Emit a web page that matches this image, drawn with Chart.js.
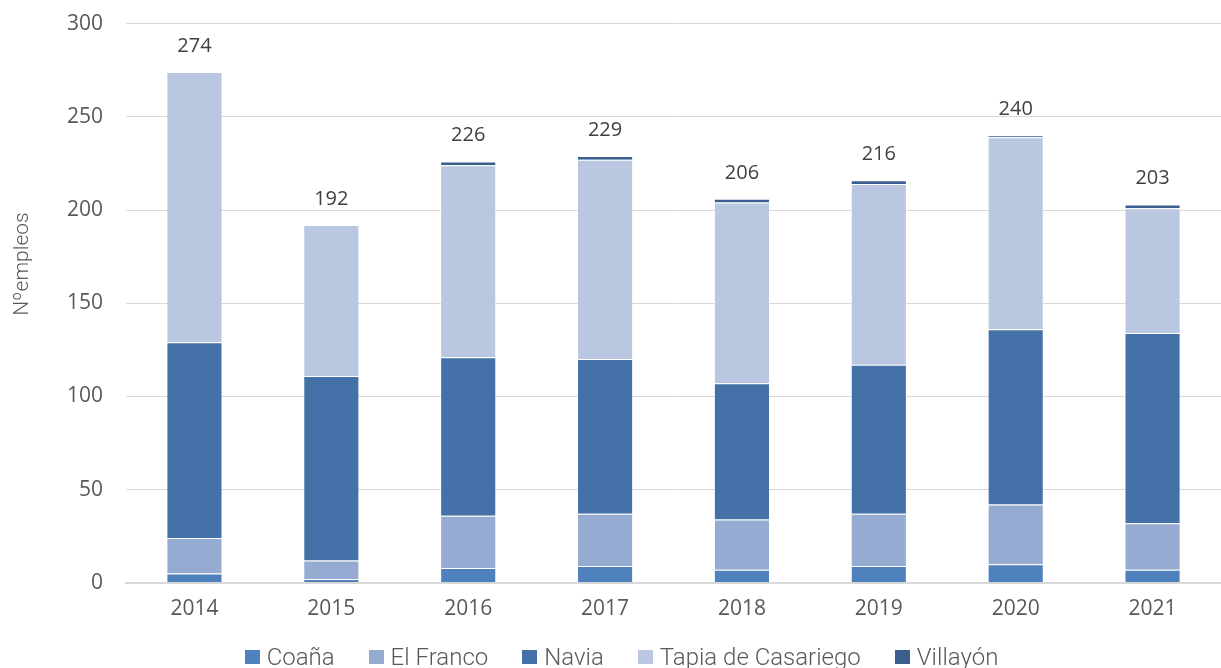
<!DOCTYPE html>
<html>
<head>
<meta charset="utf-8">
<script src="https://cdn.jsdelivr.net/npm/chart.js"></script>
<style>
  html, body { margin: 0; padding: 0; background: #fff; }
  #wrap { width: 1221px; height: 668px; position: relative; overflow: hidden; }
  #inner { position: absolute; left: 0; top: -12px; width: 1221px; height: 678px; }
  #legend {
    position: absolute; left: 0; right: 0; top: 642px; height: 30px;
    display: flex; justify-content: center; align-items: center; gap: 34px;
    font-family: Roboto, sans-serif; font-weight: 300; font-size: 24px; color: #595959;
    padding-left: 22px;
  }
  #legend .item { display: flex; align-items: center; }
  #legend .box { width: 15px; height: 14px; margin-right: 7px; }
  #legend .txt { white-space: nowrap; }
</style>
</head>
<body>
<div id="wrap"><div id="inner"><canvas id="chart"></canvas></div><div id="legend"></div></div>
<script>
const years = ['2014', '2015', '2016', '2017', '2018', '2019', '2020', '2021'];
const coana = [5, 2, 8, 9, 7, 9, 10, 7];
const elFranco = [19, 10, 28, 28, 27, 28, 32, 25];
const navia = [105, 99, 85, 83, 73, 80, 94, 102];
const tapia = [145, 81, 103, 107, 97, 97, 103, 67];
const villayon = [0, 0, 2, 2, 2, 2, 1, 2];
const yTicks = [0, 50, 100, 150, 200, 250, 300];
const yTitle = 'Nºempleos';

const tickFont = { family: '"Open Sans", sans-serif', size: 21 };

// totals drawn above each stack, plus the y axis title
const totalsPlugin = {
  id: 'totals',
  afterDatasetsDraw(chart) {
    const ctx = chart.ctx;
    const last = chart.getDatasetMeta(chart.data.datasets.length - 1);
    ctx.save();
    ctx.font = '20px "Open Sans", sans-serif';
    ctx.fillStyle = '#404040';
    ctx.textAlign = 'center';
    ctx.textBaseline = 'middle';
    years.forEach((y, i) => {
      const total = chart.data.datasets.reduce((s, d) => s + d.data[i], 0);
      const el = last.data[i];
      ctx.fillText(String(total), el.x, el.y - 26);
    });
    ctx.restore();

    const area = chart.chartArea;
    ctx.save();
    ctx.translate(23, area.top + area.height * 0.43);
    ctx.rotate(-Math.PI / 2);
    ctx.font = '300 21px Roboto, sans-serif';
    ctx.fillStyle = '#595959';
    ctx.textAlign = 'center';
    ctx.textBaseline = 'middle';
    ctx.fillText(yTitle, 0, 0);
    ctx.restore();
  }
};

function ds(label, data, color) {
  return {
    label: label,
    data: data,
    backgroundColor: color,
    borderColor: 'rgba(255,255,255,0.35)',
    borderWidth: 1,
    categoryPercentage: 1,
    barPercentage: 0.41
  };
}

const chart = new Chart(document.getElementById('chart'), {
  type: 'bar',
  data: {
    labels: years,
    datasets: [
      ds('Coaña', coana, '#4f81bd'),
      ds('El Franco', elFranco, '#95abd2'),
      ds('Navia', navia, '#4472a8'),
      ds('Tapia de Casariego', tapia, '#b9c7e1'),
      ds('Villayón', villayon, '#3a5f8f')
    ]
  },
  options: {
    responsive: true,
    maintainAspectRatio: false,
    animation: false,
    layout: { padding: { top: 5, right: 0, left: 44, bottom: 38 } },
    plugins: {
      legend: { display: false },
      tooltip: { enabled: false }
    },
    scales: {
      x: {
        stacked: true,
        grid: { display: false },
        border: { color: '#d9d9d9', width: 2 },
        ticks: { color: '#595959', font: tickFont, padding: 6 }
      },
      y: {
        stacked: true,
        min: 0,
        max: 300,
        afterBuildTicks(axis) { axis.ticks = yTicks.map(v => ({ value: v })); },
        grid: { color: '#d9d9d9', lineWidth: 1, drawTicks: false },
        border: { display: false },
        ticks: { color: '#595959', font: tickFont, padding: 23 }
      }
    }
  },
  plugins: [totalsPlugin]
});

// HTML legend built from the datasets
const legendEl = document.getElementById('legend');
chart.data.datasets.forEach(d => {
  const item = document.createElement('span');
  item.className = 'item';
  const box = document.createElement('span');
  box.className = 'box';
  box.style.background = d.backgroundColor;
  const txt = document.createElement('span');
  txt.className = 'txt';
  txt.textContent = d.label;
  item.appendChild(box);
  item.appendChild(txt);
  legendEl.appendChild(item);
});
</script>
</body>
</html>
